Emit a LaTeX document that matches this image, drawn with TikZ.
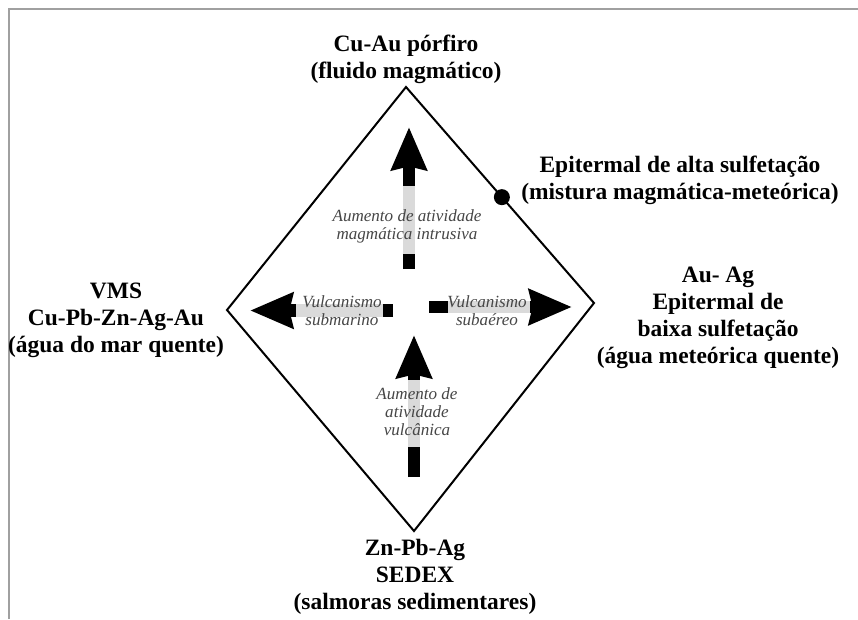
\documentclass[tikz,border=0pt]{standalone}
\usepackage{fontspec}
\setmainfont{Liberation Serif}
\usetikzlibrary{arrows.meta}
\definecolor{framegray}{RGB}{160, 160, 160}
\definecolor{bandgray}{RGB}{218, 218, 218}
\definecolor{notegray}{RGB}{70, 70, 70}

\begin{document}
\begin{tikzpicture}[
    x=0.75pt, y=-0.75pt,
    lbl/.style={align=center, inner sep=0pt,
                font=\bfseries\fontsize{17.6}{20.3}\selectfont},
    note/.style={align=center, inner sep=0pt, text=notegray,
                 font=\itshape\fontsize{12.8}{13.6}\selectfont},
    shaft/.style={line width=9.5pt, black,
                  -{Stealth[length=32pt, width=26pt, inset=2.5pt]}},
    band/.style={line width=9.5pt, bandgray},
    dot/.style={circle, fill=black, inner sep=0pt, minimum size=12pt}
  ]
    \useasboundingbox (0,0) rectangle (858,619);
    % moldura
    \draw[framegray, line width=1pt] (9,619) -- (9,9) -- (858,9);

    % losango
    \coordinate (ntop) at (406,87);
    \coordinate (nright) at (594,303);
    \coordinate (nbot) at (414,531);
    \coordinate (nleft) at (227,310);
    \draw[line width=1.5pt, line join=miter]
      (ntop) -- node[pos=0.51, dot] (alta) {} (nright) -- (nbot) -- (nleft) -- cycle;

    % setas
    \coordinate (uptail) at (409,269);  \coordinate (uptip) at (409,127);
    \coordinate (lftail) at (393,310.5); \coordinate (lftip) at (250,310.5);
    \coordinate (rttail) at (429,307);  \coordinate (rttip) at (572,307);
    \coordinate (dntail) at (414,477);  \coordinate (dntip) at (414,335);
    \draw[shaft] (uptail) -- (uptip);
    \draw[shaft] (lftail) -- (lftip);
    \draw[shaft] (rttail) -- (rttip);
    \draw[shaft] (dntail) -- (dntip);
    \draw[band] (409,254) -- (409,186);
    \draw[band] (383,310.5) -- (296,310.5);
    \draw[band] (448,307) -- (530,307);
    \draw[band] (414,447) -- (414,380);

    \node[note] (magma) at (407,226) {Aumento de atividade\\magmática intrusiva};
    \node[note] (submar) at (342,311) {Vulcanismo\\submarino};
    \node[note] (subaer) at (487,311) {Vulcanismo\\subaéreo};
    \node[note] (vulc) at (417,412) {Aumento de\\atividade\\vulcânica};

    % depositos
    \node[lbl] (porf) at (406,59) {Cu-Au pórfiro\\(fluido magmático)};
    \node[lbl] (altasulf) at (680,180) {Epitermal de alta sulfetação\\(mistura magmática-meteórica)};
    \node[lbl] (vms) at (116,320) {VMS\\Cu-Pb-Zn-Ag-Au\\(água do mar quente)};
    \node[lbl] (baixa) at (718,318) {Au- Ag\\Epitermal de\\baixa sulfetação\\(água meteórica quente)};
    \node[lbl] (sedex) at (415,577) {Zn-Pb-Ag\\SEDEX\\(salmoras sedimentares)};
  \end{tikzpicture}
\end{document}
